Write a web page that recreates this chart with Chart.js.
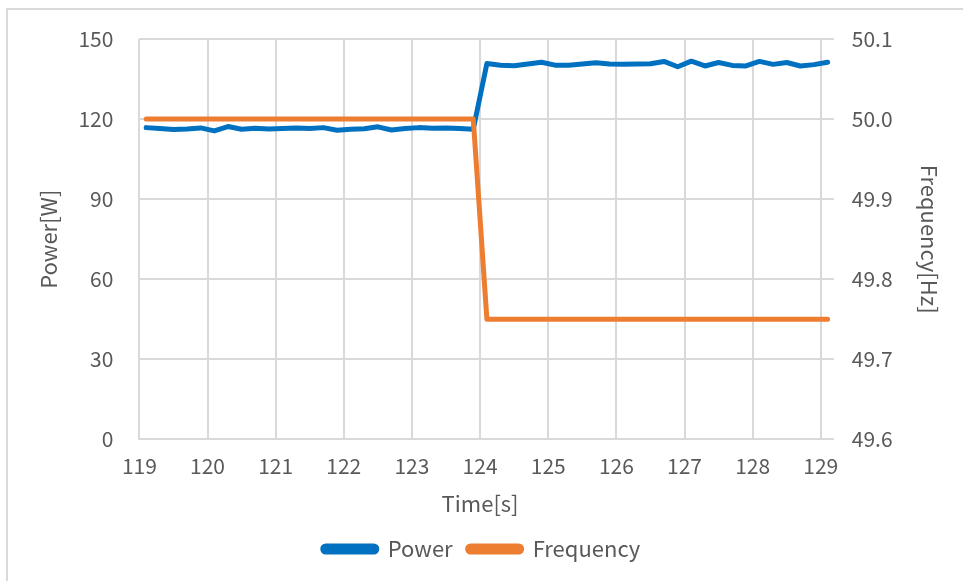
<!DOCTYPE html>
<html>
<head>
<meta charset="utf-8">
<script src="https://cdn.jsdelivr.net/npm/chart.js@4.4.1/dist/chart.umd.min.js"></script>
<style>
  html, body { margin: 0; padding: 0; background: #fff; }
  #wrap { position: relative; width: 963px; height: 581px; }
  #frame {
    position: absolute; left: 6px; top: 8px; width: 980px; height: 600px;
    border-left: 2px solid #d9d9d9; border-top: 2px solid #d9d9d9;
  }
  canvas { position: absolute; left: 0; top: 0; }
</style>
</head>
<body>
<div id="wrap">
  <div id="frame"></div>
  <canvas id="chart" width="963" height="581"></canvas>
</div>
<script>
// sample times (s)
const times = [
  119.1, 119.3, 119.5, 119.7, 119.9, 120.1, 120.3, 120.5, 120.7, 120.9,
  121.1, 121.3, 121.5, 121.7, 121.9, 122.1, 122.3, 122.5, 122.7, 122.9,
  123.1, 123.3, 123.5, 123.7, 123.9, 124.1, 124.3, 124.5, 124.7, 124.9,
  125.1, 125.3, 125.5, 125.7, 125.9, 126.1, 126.3, 126.5, 126.7, 126.9,
  127.1, 127.3, 127.5, 127.7, 127.9, 128.1, 128.3, 128.5, 128.7, 128.9,
  129.1
];

// power in W
const power = [
  116.8, 116.5, 116.1, 116.3, 116.7, 115.6, 117.2, 116.2, 116.6, 116.3,
  116.5, 116.7, 116.5, 116.8, 115.8, 116.2, 116.4, 117.1, 115.9, 116.5,
  116.8, 116.6, 116.7, 116.5, 116.2, 140.8, 140.2, 140.0, 140.6, 141.3,
  140.2, 140.2, 140.6, 141.1, 140.6, 140.5, 140.6, 140.7, 141.6, 139.6,
  141.7, 139.9, 141.2, 140.1, 139.9, 141.6, 140.5, 141.2, 139.9, 140.4,
  141.3
];

// frequency in Hz
const frequency = [
  50.0, 50.0, 50.0, 50.0, 50.0, 50.0, 50.0, 50.0, 50.0, 50.0,
  50.0, 50.0, 50.0, 50.0, 50.0, 50.0, 50.0, 50.0, 50.0, 50.0,
  50.0, 50.0, 50.0, 50.0, 50.0, 49.75, 49.75, 49.75, 49.75, 49.75,
  49.75, 49.75, 49.75, 49.75, 49.75, 49.75, 49.75, 49.75, 49.75, 49.75,
  49.75, 49.75, 49.75, 49.75, 49.75, 49.75, 49.75, 49.75, 49.75, 49.75,
  49.75
];

const timeTicks = [119, 120, 121, 122, 123, 124, 125, 126, 127, 128, 129];

const textColor = '#595959';
const gridColor = '#d9d9d9';
const fontFamily = '"Noto Sans CJK SC", "Noto Sans", sans-serif';

const toPoints = (ys) => times.map((t, i) => ({ x: t, y: ys[i] }));

new Chart(document.getElementById('chart').getContext('2d'), {
  type: 'line',
  data: {
    datasets: [
      {
        label: 'Power',
        data: toPoints(power),
        yAxisID: 'yPower',
        borderColor: '#0070c0',
        backgroundColor: '#0070c0',
        borderWidth: 5,
        borderCapStyle: 'round',
        borderJoinStyle: 'round',
        pointRadius: 0,
        tension: 0,
        clip: false,
        order: 2
      },
      {
        label: 'Frequency',
        data: toPoints(frequency),
        yAxisID: 'yFreq',
        borderColor: '#ed7d31',
        backgroundColor: '#ed7d31',
        borderWidth: 5,
        borderCapStyle: 'round',
        borderJoinStyle: 'round',
        pointRadius: 0,
        tension: 0,
        clip: false,
        order: 1
      }
    ]
  },
  options: {
    responsive: false,
    animation: false,
    layout: { padding: { left: 10, right: 10, top: 39, bottom: 11 } },
    font: { family: fontFamily },
    plugins: {
      tooltip: { enabled: false },
      legend: {
        position: 'bottom',
        labels: {
          color: textColor,
          font: { family: fontFamily, size: 22 },
          boxWidth: 54,
          boxHeight: 6,
          useBorderRadius: true,
          borderRadius: 3,
          padding: 15,
          sort: (a, b) => a.datasetIndex - b.datasetIndex
        }
      }
    },
    scales: {
      x: {
        type: 'linear',
        min: 119,
        max: 129,
        afterBuildTicks: (scale) => { scale.ticks = timeTicks.map(v => ({ value: v })); },
        ticks: {
          color: textColor,
          font: { family: fontFamily, size: 21 },
          padding: 14
        },
        grid: { color: gridColor, lineWidth: 2, drawTicks: false },
        border: { color: gridColor, width: 2 },
        title: {
          display: true,
          text: 'Time[s]',
          color: textColor,
          font: { family: fontFamily, size: 22 },
          padding: { top: -2, bottom: 6 }
        }
      },
      yPower: {
        position: 'left',
        min: 0,
        max: 150,
        ticks: {
          stepSize: 30,
          color: textColor,
          font: { family: fontFamily, size: 21 },
          padding: 26
        },
        grid: { color: gridColor, lineWidth: 2, drawTicks: false },
        border: { display: false },
        title: {
          display: true,
          text: 'Power[W]',
          color: textColor,
          font: { family: fontFamily, size: 22 },
          padding: { top: 25, bottom: -9 }
        }
      },
      yFreq: {
        position: 'right',
        min: 49.6,
        max: 50.1,
        ticks: {
          stepSize: 0.1,
          color: textColor,
          font: { family: fontFamily, size: 21 },
          padding: 18,
          callback: (v) => Number(v).toFixed(1)
        },
        grid: { color: gridColor, lineWidth: 2, drawOnChartArea: false, tickLength: 13 },
        border: { color: gridColor, width: 2 },
        title: {
          display: true,
          text: 'Frequency[Hz]',
          color: textColor,
          font: { family: fontFamily, size: 22 },
          padding: { top: 10, bottom: 6 }
        }
      }
    }
  }
});
</script>
</body>
</html>
